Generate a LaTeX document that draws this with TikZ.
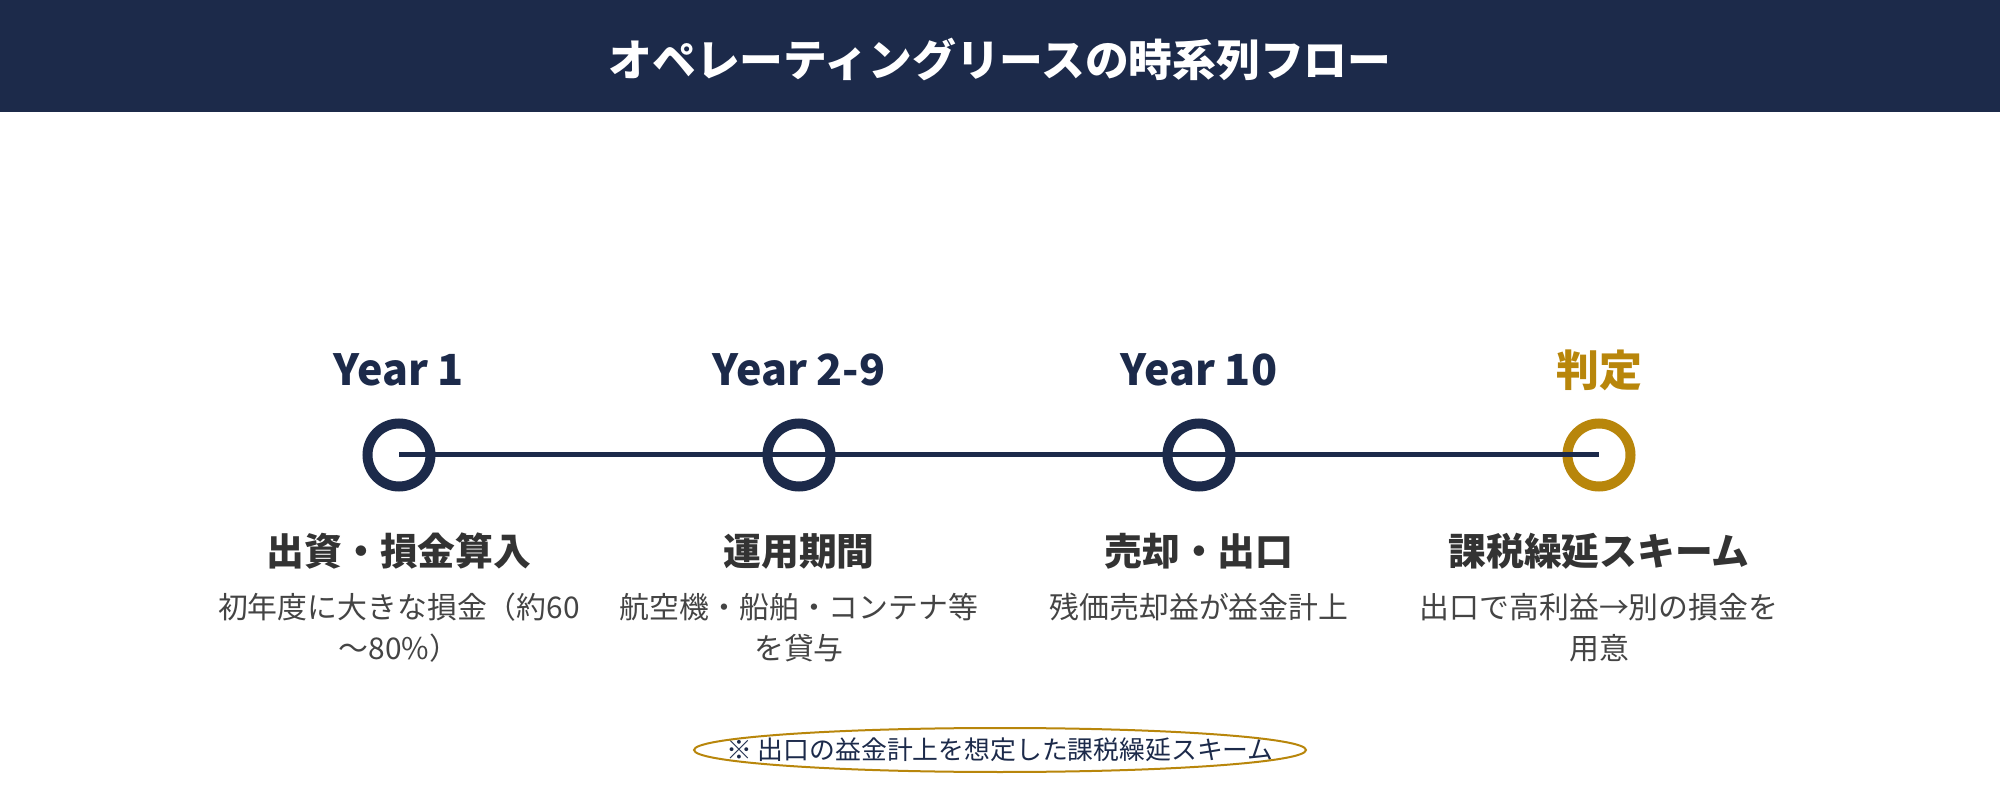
\documentclass[tikz,border=0pt]{standalone}
\usepackage{fontspec}
\setmainfont{Noto Sans CJK JP}
\usepackage{tikz}
\usetikzlibrary{positioning}

\definecolor{marino}{HTML}{1C2A4A}
\definecolor{oro}{HTML}{B8860B}
\definecolor{grisosc}{HTML}{333333}
\definecolor{gris}{HTML}{444444}

\begin{document}
\begin{tikzpicture}[on grid, node distance=4cm, inner sep=0pt, line width=0.5mm, draw=marino]
				\tikzset{every node/.style={align=center}}
				\tikzstyle{titulo}=[text=white, font=\fontsize{12.45}{14}\selectfont\bfseries]
				\tikzstyle{hito}=[circle, draw=marino, line width=1mm, minimum size=6.3mm]
				\tikzstyle{anio}=[text=marino, font=\fontsize{12.2}{15}\selectfont\bfseries]
				\tikzstyle{titular}=[text=grisosc, font=\fontsize{10.75}{13}\selectfont\bfseries]
				\tikzstyle{detalle}=[text=gris, font=\fontsize{8.5}{11.7}\selectfont]
				\tikzstyle{nota}=[text=marino, font=\fontsize{7.35}{9}\selectfont]

				\useasboundingbox (0,0) rectangle (20,-8);

				%TITULO
				\fill[marino] (0,0) rectangle (20,-1.12);
				\node[titulo]			(tit) at (10,-0.59)		{オペレーティングリースの時系列フロー};

				%HITOS
				\node[hito]			(c1) at (3.99,-4.55)		{};
				\node[hito]			(c2) [right=of c1]		{};
				\node[hito]			(c3) [right=of c2]		{};
				\node[hito,draw=oro]		(c4) [right=of c3]		{};
				\draw[marino] (c1.center) -- (c4.center);

				%ETIQUETAS
				\node[anio]			(a1) [above=0.85cm of c1]	{Year 1};
				\node[anio]			(a2) [above=0.85cm of c2]	{Year 2-9};
				\node[anio]			(a3) [above=0.85cm of c3]	{Year 10};
				\node[anio,text=oro]		(a4) [above=0.85cm of c4]	{判定};

				\node[titular]			(t1) [below=0.96cm of c1]	{出資・損金算入};
				\node[titular]			(t2) [below=0.96cm of c2]	{運用期間};
				\node[titular]			(t3) [below=0.96cm of c3]	{売却・出口};
				\node[titular]			(t4) [below=0.96cm of c4]	{課税繰延スキーム};

				\node[detalle]			(d1) [below=0.765cm of t1]	{初年度に大きな損金（約60\\〜80\%）};
				\node[detalle]			(d2) [below=0.765cm of t2]	{航空機・船舶・コンテナ等\\を貸与};
				\node[detalle]			(d3) [below=0.56cm of t3]	{残価売却益が益金計上};
				\node[detalle]			(d4) [below=0.765cm of t4]	{出口で高利益→別の損金を\\用意};

				%NOTA
				\node[nota]			(n1) at (10,-7.5)		{※ 出口の益金計上を想定した課税繰延スキーム};
				\draw[oro, line width=0.2mm] (n1.center) ellipse [x radius=3.06, y radius=0.22];
\end{tikzpicture}
\end{document}
